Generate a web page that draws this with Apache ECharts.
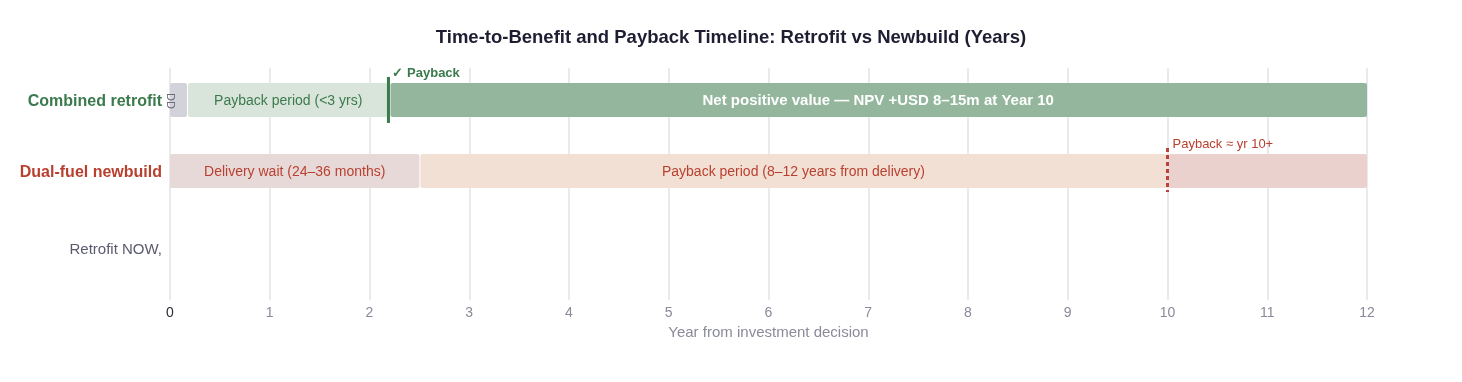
<!DOCTYPE html>
<html><head><meta charset="utf-8">
<script src="https://cdn.jsdelivr.net/npm/echarts@6/dist/echarts.min.js"></script>
<style>html,body{margin:0;padding:0;background:#fff}#c{width:1462px;height:382px}</style>
</head><body><div id="c"></div>
<script>
const rowNames = ['Combined retrofit', 'Dual-fuel newbuild', 'Retrofit NOW,'];
const rowLevels = [2, 1, 0];
const retrofitStarts = [0, 0.17, 2.2];
const retrofitEnds = [0.17, 2.2, 12];
const retrofitLabels = ['DD', 'Payback period (<3 yrs)', 'Net positive value — NPV +USD 8–15m at Year 10'];
const newbuildStarts = [0, 2.5, 10];
const newbuildEnds = [2.5, 10, 12];
const newbuildLabels = ['Delivery wait (24–36 months)', 'Payback period (8–12 years from delivery)', ''];
const paybackRetrofit = 2.2;
const paybackNewbuild = 10;
const paybackRetrofitLabel = '✓ Payback';
const paybackNewbuildLabel = 'Payback ≈ yr 10+';
const xTicks = [0,1,2,3,4,5,6,7,8,9,10,11,12];

const FONT = '"Liberation Sans", Arial, Helvetica, sans-serif';
const GREEN = '#3b7a4c', RED = '#b9402f';
const retroFill = ['#d2d2da', '#d9e5da', '#93b69c'];
const retroText = [{c:'#6b6b7b', s:11, w:'normal', rot:true}, {c:GREEN, s:14, w:'normal'}, {c:'#ffffff', s:15, w:'bold'}];
const newFill = ['#e8d9d9', '#f2e0d5', '#ebd1cd'];
const newText = [{c:RED, s:14, w:'normal'}, {c:RED, s:14, w:'normal'}, {c:RED, s:14, w:'normal'}];

const segData = [];
retrofitStarts.forEach((s, i) => segData.push([s, retrofitEnds[i], rowLevels[0], i, 0]));
newbuildStarts.forEach((s, i) => segData.push([s, newbuildEnds[i], rowLevels[1], i, 1]));

function renderSeg(params, api) {
  const s = api.value(0), e = api.value(1), lvl = api.value(2), idx = api.value(3), grp = api.value(4);
  const p0 = api.coord([s, lvl]), p1 = api.coord([e, lvl]);
  const h = 34;
  const fill = grp === 0 ? retroFill[idx] : newFill[idx];
  const lab = grp === 0 ? retrofitLabels[idx] : newbuildLabels[idx];
  const ts = grp === 0 ? retroText[idx] : newText[idx];
  const children = [{
    type: 'rect',
    shape: {x: p0[0] + (idx > 0 ? 1 : 0), y: p0[1] - h/2, width: p1[0] - p0[0] - (idx > 0 ? 1 : 0), height: h, r: 2},
    style: {fill: fill}
  }];
  if (lab) {
    if (ts.rot) {
      children.push({type: 'text', x: p0[0], y: p0[1] + 1, rotation: -Math.PI/2,
        style: {text: lab, fill: ts.c, font: ts.w + ' ' + ts.s + 'px ' + FONT, align: 'center', verticalAlign: 'middle'}});
    } else {
      children.push({type: 'text', x: (p0[0] + p1[0]) / 2, y: p0[1] + 1,
        style: {text: lab, fill: ts.c, font: ts.w + ' ' + ts.s + 'px ' + FONT, align: 'center', verticalAlign: 'middle'}});
    }
  }
  return {type: 'group', children: children};
}

const markerData = [[paybackRetrofit, rowLevels[0], 0], [paybackNewbuild, rowLevels[1], 1]];
function renderMarker(params, api) {
  const x = api.value(0), lvl = api.value(1), kind = api.value(2);
  const p = api.coord([x, lvl]);
  if (kind === 0) {
    return {type: 'group', children: [
      {type: 'line', shape: {x1: p[0] - 1, y1: p[1] - 23, x2: p[0] - 1, y2: p[1] + 23}, style: {stroke: GREEN, lineWidth: 3}},
      {type: 'text', x: p[0] + 3, y: p[1] - 27, style: {text: paybackRetrofitLabel, fill: GREEN, font: 'bold 13px ' + FONT, align: 'left', verticalAlign: 'middle'}}
    ]};
  }
  return {type: 'group', children: [
    {type: 'line', shape: {x1: p[0], y1: p[1] - 23, x2: p[0], y2: p[1] + 21}, style: {stroke: '#b8433a', lineWidth: 3, lineDash: [4, 3]}},
    {type: 'text', x: p[0] + 5, y: p[1] - 27, style: {text: paybackNewbuildLabel, fill: RED, font: 'normal 13px ' + FONT, align: 'left', verticalAlign: 'middle'}}
  ]};
}

const chart = echarts.init(document.getElementById('c'), null, {renderer: 'canvas'});
chart.setOption({
  animation: false,
  textStyle: {fontFamily: FONT},
  title: {
    text: 'Time-to-Benefit and Payback Timeline: Retrofit vs Newbuild (Years)',
    left: 'center', top: 23,
    textStyle: {fontSize: 18.5, fontWeight: 'bold', color: '#1e1e32', fontFamily: FONT}
  },
  grid: {left: 170, right: 95, top: 68, bottom: 82, containLabel: false},
  xAxis: {
    type: 'value', min: 0, max: 12, interval: 1,
    name: 'Year from investment decision', nameLocation: 'middle', nameGap: 25,
    nameTextStyle: {color: '#8a8a9a', fontSize: 15, fontFamily: FONT},
    axisLine: {show: false}, axisTick: {show: false},
    axisLabel: {
      margin: 6, fontSize: 14, color: '#8a8a9a', fontFamily: FONT,
      formatter: v => v === 0 ? '{z|0}' : String(v),
      rich: {z: {color: '#2a2a3a', fontSize: 14, fontFamily: FONT}}
    },
    splitLine: {show: true, lineStyle: {color: '#e2e2e8', width: 1.5}}
  },
  yAxis: {
    type: 'value', min: -0.817, max: 2.45,
    axisLine: {show: false}, axisTick: {show: false}, splitLine: {show: false},
    axisLabel: {
      customValues: rowLevels,
      margin: 8,
      formatter: v => {
        const i = rowLevels.indexOf(Math.round(v));
        if (i === 0) return '{g|' + rowNames[0] + '}';
        if (i === 1) return '{r|' + rowNames[1] + '}';
        if (i === 2) return '{n|' + rowNames[2] + '}';
        return '';
      },
      rich: {
        g: {color: GREEN, fontSize: 16, fontWeight: 'bold', fontFamily: FONT, padding: [3, 0, 0, 0]},
        r: {color: RED, fontSize: 16, fontWeight: 'bold', fontFamily: FONT, padding: [3, 0, 0, 0]},
        n: {color: '#5a5a6e', fontSize: 15, fontFamily: FONT, padding: [16, 0, 0, 0]}
      }
    }
  },
  series: [
    {type: 'custom', renderItem: renderSeg, data: segData, clip: false, encode: {x: [0, 1], y: 2}, z: 2},
    {type: 'custom', renderItem: renderMarker, data: markerData, clip: false, encode: {x: 0, y: 1}, z: 3}
  ]
});
</script></body></html>
